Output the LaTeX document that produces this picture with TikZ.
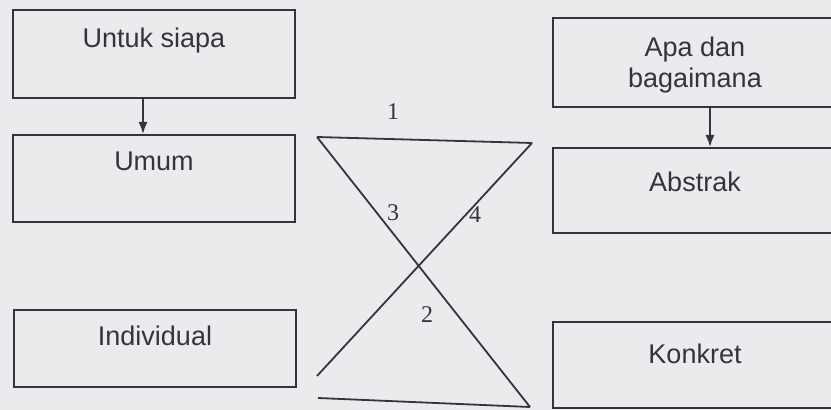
\documentclass[tikz,border=0pt]{standalone}
\usepackage{fontspec}
\setmainfont{Liberation Sans}
\newfontfamily\numfont{Liberation Serif}
\usetikzlibrary{positioning,arrows.meta}
\definecolor{paper}{RGB}{233,235,237}
\definecolor{ink}{RGB}{52,52,58}
\begin{document}
\begin{tikzpicture}[x=0.5pt,y=-0.5pt,
		box/.style={draw=ink,line width=1pt,minimum width=141pt,minimum height=#1,inner sep=0pt},
		box/.default=44pt,
		lbl/.style={font=\fontsize{13.5}{15.5}\selectfont,text=ink,align=center,inner sep=0pt},
		num/.style={font=\numfont\fontsize{12}{14}\selectfont,text=ink,inner sep=0pt},
		arr/.style={draw=ink,line width=0.8pt,-{Latex[length=6pt,width=4.5pt]}},
		cross/.style={draw=ink,line width=0.9pt}]
	\useasboundingbox (0,0) rectangle (831,410);
	\clip (0,0) rectangle (831,410);
	\fill[paper] (0,0) rectangle (831,410);
	% left column
	\node[box=44pt] (siapa) at (154,54) {};
	\node[box=43.5pt] (umum) at (154,178.5) {};
	\node[box=38.5pt] (indiv) at (155,348.5) {};
	\node[lbl,below=9.5pt of siapa.north] {Untuk siapa};
	\node[lbl,below=9pt of umum.north] {Umum};
	\node[lbl,below=8.5pt of indiv.north] {Individual};
	\draw[arr] ([xshift=-5.5pt]siapa.south) -- ([xshift=-5.5pt]umum.north);
	% right column
	\node[box=44.5pt,minimum width=142pt] (apa) at (695,62.5) {};
	\node[box=42.5pt,minimum width=142pt] (abstrak) at (695,190.5) {};
	\node[box=43pt,minimum width=142pt] (konkret) at (695,365) {};
	\node[lbl,below=10pt of apa.north] {Apa dan\\bagaimana};
	\node[lbl,below=12.5pt of abstrak.north] {Abstrak};
	\node[lbl,below=11.5pt of konkret.north] {Konkret};
	\draw[arr] ([xshift=7.5pt]apa.south) -- ([xshift=7.5pt]abstrak.north);
	% the cross
	\coordinate (tl) at (317,137);
	\coordinate (tr) at (532,143);
	\coordinate (bl) at (317,376);
	\coordinate (bb) at (318,398);
	\coordinate (br) at (530,407);
	\draw[cross] (tl) -- (tr);
	\draw[cross] (tl) -- (br);
	\draw[cross] (tr) -- (bl);
	\draw[cross] (bb) -- (br);
	\node[num] (n1) at (393,112) {1};
	\node[num] (n3) at (393,213) {3};
	\node[num] (n4) at (475,215) {4};
	\node[num] (n2) at (427,315) {2};
\end{tikzpicture}
\end{document}
